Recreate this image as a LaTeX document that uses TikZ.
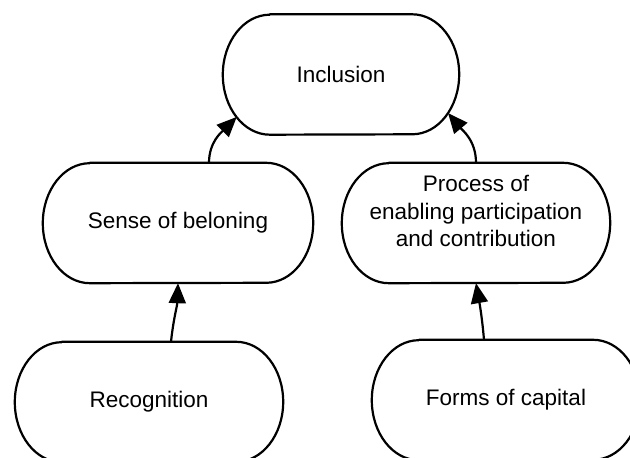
\documentclass[tikz,border=0pt]{standalone}
\usepackage{fontspec}
\setmainfont{Liberation Sans}
\usetikzlibrary{calc,arrows.meta}

% outline of a terminator box: straight top and bottom, elliptical ends
\newcommand\stadium[1]{%
  \draw[outline] ($(#1.north west)+(47,0)$) -- ($(#1.north east)+(-47,0)$)
    arc[start angle=90,end angle=-90,x radius=47,y radius=60]
    -- ($(#1.south west)+(47,0)$)
    arc[start angle=270,end angle=90,x radius=47,y radius=60] -- cycle;}

\tikzset{
  box/.style={rectangle,draw=none,minimum height=120pt,inner sep=0pt,
    align=center,font=\fontsize{22.5}{27.5}\selectfont},
  outline/.style={line width=2.2pt,black,line join=round},
  tip/.tip={Triangle[length=20pt,width=17pt]},
  link/.style={line width=2.2pt,black,-tip}
}

\begin{document}
\begin{tikzpicture}[x=1pt,y=1pt]
  \useasboundingbox (0,0) rectangle (630,458);
  \clip (0,0) rectangle (630,458);

  \node[box,minimum width=236pt] (incl)  at (341,383.5) {Inclusion};
  \node[box,minimum width=270pt] (sense) at (178,235) {Sense of beloning};
  \node[box,minimum width=268pt,
        label={[font=\fontsize{22.5}{27.5}\selectfont,align=center,yshift=12pt]center:Process of\\enabling participation\\and contribution}]
        (proc)  at (476,235) {};
  \node[box,minimum width=268pt] (rec)   at (149,56) {Recognition};
  \node[box,minimum width=268pt] (forms) at (506,58) {Forms of capital};

  \foreach \n in {incl,sense,proc,rec,forms} {\stadium{\n}}

  % points on the lower curved ends of the top box
  \coordinate (inclL) at ($(incl.center)+(-71,0)+(225:47 and 60)$);
  \coordinate (inclR) at ($(incl.center)+(71,0)+(320:47 and 60)$);

  \draw[link] ($(sense.north)+(31,0)$) to[out=90,in=225] (inclL);
  \draw[link] (proc.north) to[out=90,in=-50] (inclR);
  \draw[link] ($(rec.north)+(22,0)$) to[out=84,in=-92] (sense.south);
  \draw[link] ($(forms.north)+(-22,0)$) to[out=95,in=-80] (proc.south);
\end{tikzpicture}
\end{document}
